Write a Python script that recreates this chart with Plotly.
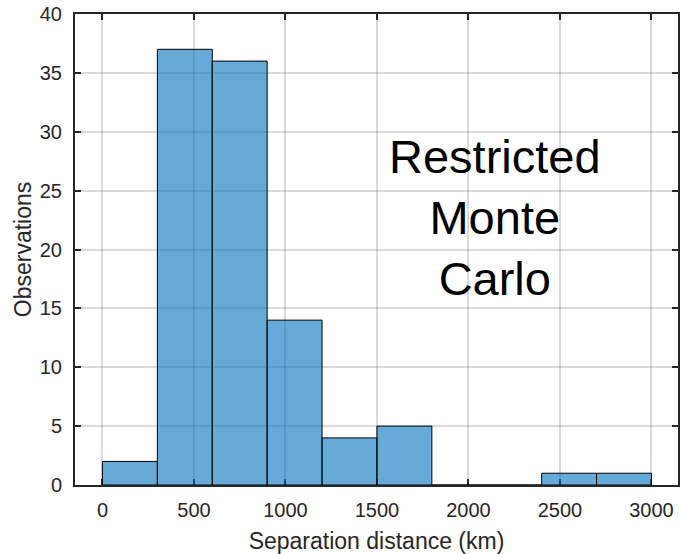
import plotly.graph_objects as go

# Histogram of separation distances, bins of 300 km
bin_edges = [0, 300, 600, 900, 1200, 1500, 1800, 2100, 2400, 2700, 3000]
counts = [2, 37, 36, 14, 4, 5, 0, 0, 1, 1]
x_ticks = [0, 500, 1000, 1500, 2000, 2500, 3000]
y_ticks = [0, 5, 10, 15, 20, 25, 30, 35, 40]

centers = [(a + b) / 2 for a, b in zip(bin_edges[:-1], bin_edges[1:])]
widths = [b - a for a, b in zip(bin_edges[:-1], bin_edges[1:])]

FONT = "Liberation Sans, Arial, Helvetica, sans-serif"
AX = "#262626"

fig = go.Figure()
fig.add_trace(go.Bar(
    x=centers, y=counts, width=widths,
    marker=dict(color="rgba(0,114,189,0.6)",
                line=dict(color="#000000", width=1)),
    hoverinfo="x+y",
))

axis_common = dict(
    showline=True, linecolor=AX, linewidth=2, mirror="ticks",
    ticks="inside", ticklen=6, tickwidth=2, tickcolor=AX,
    showgrid=True, gridcolor="rgba(38,38,38,0.17)", gridwidth=1.5,
    zeroline=False,
    tickfont=dict(family=FONT, size=20, color=AX),
)

fig.update_layout(
    width=680, height=554,
    margin=dict(l=75, r=0, t=14, b=69),
    plot_bgcolor="white", paper_bgcolor="white",
    showlegend=False,
    font=dict(family=FONT, color=AX),
    xaxis=dict(range=[-150, 3145], tickvals=x_ticks,
               ticklabelstandoff=6,
               title=dict(text="Separation distance (km)",
                          font=dict(family=FONT, size=23, color=AX),
                          standoff=13),
               layer="below traces", **axis_common),
    yaxis=dict(range=[0, 40], tickvals=y_ticks,
               ticklabelstandoff=7,
               title=dict(text="Observations",
                          font=dict(family=FONT, size=23, color=AX),
                          standoff=2),
               layer="below traces", **axis_common),
    annotations=[dict(
        x=2145, y=22.7, xref="x", yref="y",
        text="Restricted<br>Monte<br>Carlo", showarrow=False,
        font=dict(family=FONT, size=47, color="#000000"),
        align="center",
    )],
)

fig.write_html("out.html")
